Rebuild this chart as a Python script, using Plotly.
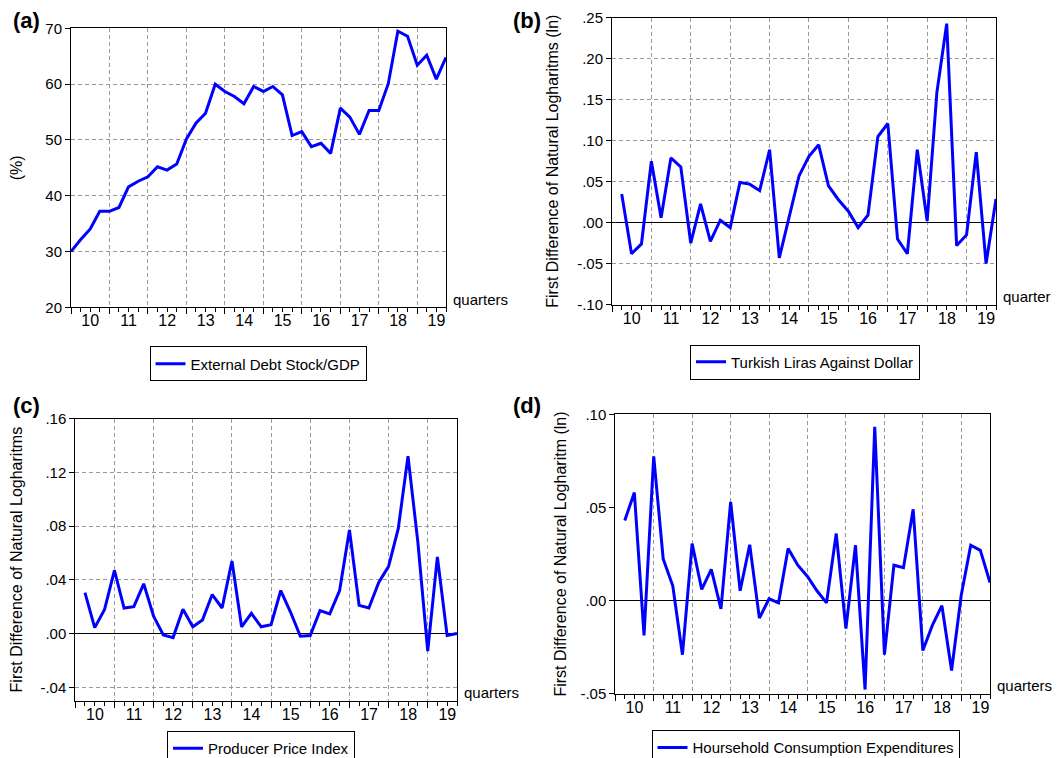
import pandas as pd
import plotly.graph_objects as go

# ---------------- data ----------------
quarters = [d.strftime("%Y-%m-%d") for d in pd.date_range("2010-01-01", periods=40, freq="QS")]

external_debt_gdp = [30.0, 32.1, 34.0, 37.2, 37.2, 37.9, 41.6, 42.6, 43.4, 45.2,
                     44.6, 45.7, 50.2, 53.0, 54.8, 60.0, 58.7, 57.8, 56.5, 59.6,
                     58.7, 59.6, 58.1, 50.8, 51.5, 48.8, 49.4, 47.6, 55.7, 54.1,
                     51.0, 55.3, 55.3, 60.1, 69.5, 68.6, 63.4, 65.2, 60.9, 64.8]

try_usd = [0.035, -0.038, -0.026, 0.075, 0.006, 0.079, 0.068, -0.025, 0.023, -0.023,
           0.003, -0.006, 0.049, 0.047, 0.039, 0.089, -0.043, 0.007, 0.057, 0.081,
           0.095, 0.045, 0.028, 0.014, -0.006, 0.009, 0.105, 0.121, -0.020, -0.038,
           0.089, 0.002, 0.159, 0.243, -0.028, -0.015, 0.086, -0.050, 0.029]

ppi = [0.0305, 0.0044, 0.018, 0.047, 0.019, 0.020, 0.037, 0.013, -0.001, -0.003,
       0.018, 0.005, 0.010, 0.029, 0.019, 0.054, 0.005, 0.015, 0.005, 0.0066,
       0.032, 0.016, -0.002, -0.0015, 0.017, 0.0146, 0.032, 0.077, 0.021, 0.019,
       0.038, 0.050, 0.078, 0.132, 0.068, -0.013, 0.057, -0.0015, 0.0]

household = [0.043, 0.058, -0.0186, 0.0774, 0.0224, 0.008, -0.029, 0.0306, 0.006, 0.0168,
             -0.0044, 0.053, 0.0053, 0.030, -0.0094, 0.001, -0.0012, 0.028, 0.019, 0.013,
             0.0053, -0.0012, 0.036, -0.015, 0.0297, -0.0477, 0.0933, -0.029, 0.019, 0.0177,
             0.049, -0.0268, -0.0133, -0.0027, -0.0375, 0.003, 0.0297, 0.027, 0.0097]

names = ["External Debt Stock/GDP", "Turkish Liras Against Dollar",
         "Producer Price Index", "Hoursehold Consumption Expenditures"]

ticks_a = [20, 30, 40, 50, 60, 70]
ticktext_a = ["20", "30", "40", "50", "60", "70"]
ticks_b = [-0.10, -0.05, 0.0, 0.05, 0.10, 0.15, 0.20, 0.25]
ticktext_b = ["-.10", "-.05", ".00", ".05", ".10", ".15", ".20", ".25"]
ticks_c = [-0.04, 0.0, 0.04, 0.08, 0.12, 0.16]
ticktext_c = ["-.04", ".00", ".04", ".08", ".12", ".16"]
ticks_d = [-0.05, 0.0, 0.05, 0.10]
ticktext_d = ["-.05", ".00", ".05", ".10"]

ytitles = ["(%)", "First Difference of Natural Logharitms (ln)",
           "First Difference of Natural Logharitms", "First Difference of Natural Logharitm (ln)"]
panel_labels = ["(a)", "(b)", "(c)", "(d)"]
xlabels = ["quarters", "quarter", "quarters", "quarters"]

# ---------------- figure ----------------
W, H = 1061, 758
FONT = "Arial, Liberation Sans, sans-serif"
BLUE = "#0000FF"
GRID = "#9a9a9a"

fig = go.Figure()

series = [(quarters, external_debt_gdp), (quarters[1:], try_usd),
          (quarters[1:], ppi), (quarters[1:], household)]
for i, (xs, ys) in enumerate(series):
    sfx = "" if i == 0 else str(i + 1)
    fig.add_trace(go.Scatter(x=xs, y=ys, mode="lines", name=names[i],
                             line=dict(color=BLUE, width=3),
                             xaxis="x" + sfx, yaxis="y" + sfx,
                             legend="legend" + sfx, showlegend=True))

# pixel boxes: (left, right, top, bottom)
boxes = [(63, 438, 20.7, 303.3), (604, 988, 10, 300.5),
         (67.3, 449, 416, 702), (607.3, 982, 411.7, 695)]
yranges = [[20, 70], [-0.10, 0.25], [-0.05, 0.16], [-0.05, 0.10]]
yticks = [(ticks_a, ticktext_a), (ticks_b, ticktext_b), (ticks_c, ticktext_c), (ticks_d, ticktext_d)]
standoffs = [20, 14, 13, 9]
legend_pos = [(250, 343), (797, 341), (253, 733), (797.5, 732)]
label_pos = [(18, 13), (519, 13), (18, 403), (519, 403)]

layout = dict(width=W, height=H, margin=dict(l=0, r=0, t=0, b=0),
              paper_bgcolor="white", plot_bgcolor="white",
              font=dict(family=FONT, color="black"), annotations=[])

for i in range(4):
    sfx = "" if i == 0 else str(i + 1)
    l, r, t, b = boxes[i]
    layout["xaxis" + sfx] = dict(
        domain=[l / W, r / W], anchor="y" + sfx, type="date",
        range=["2010-01-01", "2019-10-01"], dtick="M12", tick0="2010-01-01",
        tickformat="%y", ticklabelmode="period", ticklabelstandoff=-7,
        ticks="outside", ticklen=6, tickcolor="black", tickwidth=1,
        tickfont=dict(size=16, family=FONT),
        showgrid=True, gridcolor=GRID, griddash="4px,3px", gridwidth=1,
        minor=dict(dtick="M3", ticks="outside", ticklen=4, tickcolor="black", showgrid=False),
        showline=True, linecolor="black", linewidth=1, mirror=True,
        zeroline=False, automargin=False, fixedrange=True)
    tv, tt = yticks[i]
    layout["yaxis" + sfx] = dict(
        domain=[1 - b / H, 1 - t / H], anchor="x" + sfx, range=yranges[i],
        tickvals=tv, ticktext=tt, ticks="outside", ticklen=5, tickcolor="black",
        tickfont=dict(size=15, family=FONT),
        showgrid=(i != 3), gridcolor=GRID, griddash="4px,3px", gridwidth=1,
        zeroline=(i != 0), zerolinecolor="black", zerolinewidth=1,
        showline=True, linecolor="black", linewidth=1, mirror=True,
        title=dict(text=ytitles[i], font=dict(size=16, family=FONT), standoff=standoffs[i]),
        automargin=False, fixedrange=True)
    lx, ly = legend_pos[i]
    layout["legend" + sfx] = dict(
        x=lx / W, y=1 - ly / H, xanchor="center", yanchor="top",
        bordercolor="black", borderwidth=1, bgcolor="white",
        font=dict(size=15, family=FONT), itemwidth=30)
    layout["annotations"].append(dict(
        text=xlabels[i], xref="x" + sfx + " domain", yref="y" + sfx + " domain",
        x=1, y=0, xanchor="left", yanchor="middle", xshift=5, yshift=8,
        showarrow=False, font=dict(size=15, family=FONT)))
    px, py = label_pos[i]
    layout["annotations"].append(dict(
        text="<b>" + panel_labels[i] + "</b>", xref="paper", yref="paper",
        x=px / W, y=1 - py / H, xanchor="center", yanchor="middle",
        showarrow=False, font=dict(size=22, family=FONT)))

fig.update_layout(**layout)
fig.write_html("out.html")
